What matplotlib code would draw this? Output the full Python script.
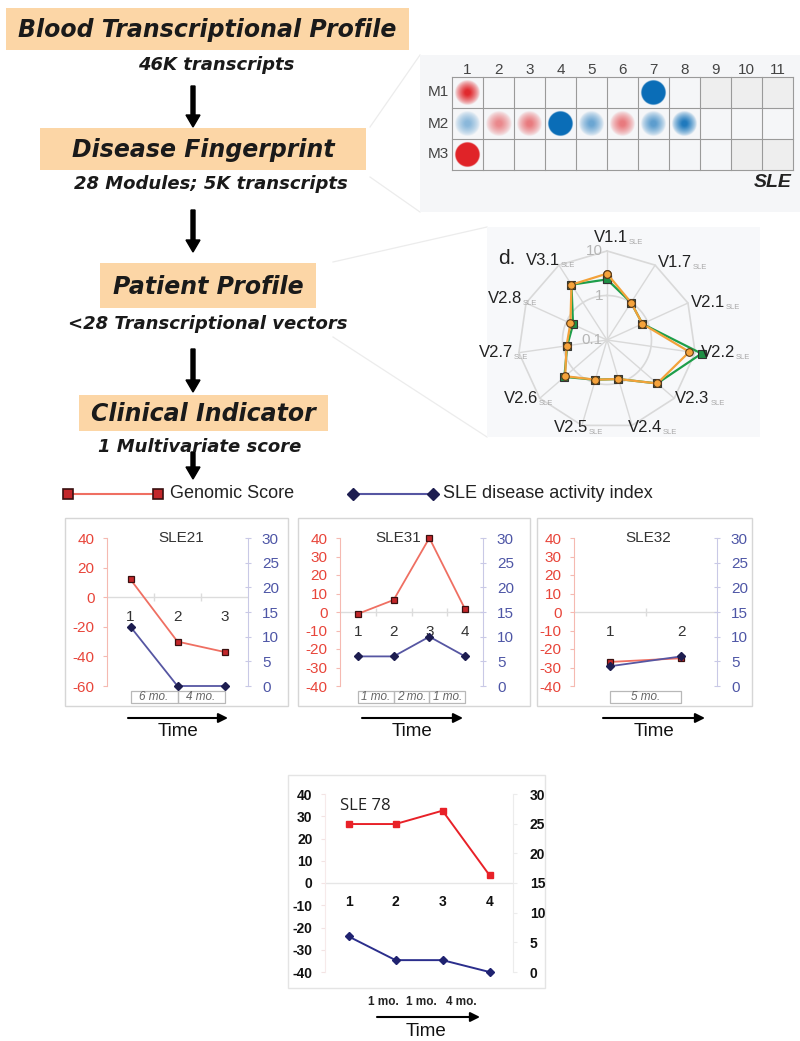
import numpy as np
import matplotlib
matplotlib.use("Agg")
import matplotlib.pyplot as plt
from matplotlib.patches import Rectangle
from matplotlib.transforms import blended_transform_factory
from matplotlib import font_manager

plt.rcParams["axes.unicode_minus"] = False

# ---------------- data ----------------
flow_titles = ["Blood Transcriptional Profile", "Disease Fingerprint",
               "Patient Profile", "Clinical Indicator"]
flow_subtitles = ["46K transcripts", "28 Modules; 5K transcripts",
                  "<28 Transcriptional vectors", "1 Multivariate score"]

module_rows = ["M1", "M2", "M3"]
module_cols = [str(i) for i in range(1, 12)]
# signed % of transcripts (+ red / - blue); None = module not present (grey)
module_M1 = [75, 0, 0, 0, 0, 0, -100, 0, None, None, None]
module_M2 = [-35, 40, 45, -100, -45, 45, -50, -70, 0, 0, 0]
module_M3 = [100, 0, 0, 0, 0, 0, 0, 0, 0, None, None]

radar_axes = ["V1.1", "V1.7", "V2.1", "V2.2", "V2.3", "V2.4",
              "V2.5", "V2.6", "V2.7", "V2.8", "V3.1"]
radar_orange = [3.1, 1.0, 0.75, 7.4, 3.1, 0.82, 0.85, 1.75, 0.83, 0.80, 3.0]
radar_green = [2.3, 1.0, 0.75, 14.0, 3.1, 0.82, 0.85, 1.85, 0.80, 0.69, 3.0]

sle21_genomic = [12, -30, -37]
sle21_sledai = [12, 0, 0]
sle21_intervals = ["6 mo.", "4 mo."]

sle31_genomic = [-1, 6.5, 40, 1.5]
sle31_sledai = [6, 6, 10, 6]
sle31_intervals = ["1 mo.", "2 mo.", "1 mo."]

sle32_genomic = [-27, -25]
sle32_sledai = [4, 6]
sle32_intervals = ["5 mo."]

sle78_genomic = [26.5, 26.5, 32.5, 3.5]
sle78_sledai = [6, 2, 2, 0]
sle78_intervals = ["1 mo.", "1 mo.", "4 mo."]

legend_labels = ["Genomic Score", "SLE disease activity index"]

# ---------------- figure ----------------
W, H = 800, 1041
fig = plt.figure(figsize=(8, 10.41), dpi=100)
bg = fig.add_axes([0, 0, 1, 1])
bg.set_xlim(0, W)
bg.set_ylim(H, 0)
bg.axis("off")


def fr(x0, y0, x1, y1):
    return [x0 / W, 1 - y1 / H, (x1 - x0) / W, (y1 - y0) / H]


names = {f.name for f in font_manager.fontManager.ttflist}
HEAVY = "DejaVu Sans"
SANS = "Liberation Sans" if "Liberation Sans" in names else "DejaVu Sans"

# ---- faint zoom connector lines & panel backgrounds
conn = "#ececec"
for (x0, y0, x1, y1) in [(370, 127, 420, 55), (370, 177, 420, 212),
                         (333, 262, 487, 227), (333, 337, 487, 437)]:
    bg.plot([x0, x1], [y0, y1], color=conn, lw=0.9, zorder=0)
bg.add_patch(Rectangle((420, 55), 380, 157, color="#f5f6f8", zorder=0, lw=0))
bg.add_patch(Rectangle((487, 227), 273, 210, color="#f7f8fa", zorder=0, lw=0))

# ---- flow chart
box_rects = [(6, 8, 409, 50), (40, 128, 366, 170), (100, 263, 316, 308), (79, 395, 328, 431)]
sub_pos = [(216, 65), (211, 184), (208, 324), (200, 447)]
arrows = [(86, 127), (210, 252), (349, 392), (452, 479)]
for (x0, y0, x1, y1), t in zip(box_rects, flow_titles):
    bg.add_patch(Rectangle((x0, y0), x1 - x0, y1 - y0, color="#fcd6a6", lw=0, zorder=1))
    bg.text((x0 + x1) / 2, (y0 + y1) / 2 + 1, t, ha="center", va="center",
            family=HEAVY, weight="heavy", style="oblique", fontsize=17, color="#1a1a1a", zorder=2)
for (x, y), t in zip(sub_pos, flow_subtitles):
    bg.text(x, y, t, ha="center", va="center", family=HEAVY, weight="heavy",
            style="oblique", fontsize=13, color="#1a1a1a")
for (y0, y1) in arrows:
    bg.arrow(193, y0, 0, y1 - y0, width=4, head_width=14, head_length=12,
             length_includes_head=True, color="black", zorder=2)

# ---- legend
RED_LINE, RED_MK, RED_EDGE = "#ef6f62", "#c3262a", "#3a1010"
BLU_LINE, BLU_MK = "#5656a2", "#1d1d50"
bg.plot([68, 158], [494, 494], color=RED_LINE, lw=1.5, marker="s", ms=7,
        mfc=RED_MK, mec=RED_EDGE, mew=1.2)
bg.text(170, 494, legend_labels[0], ha="left", va="center", family=SANS, fontsize=13, color="#222")
bg.plot([353, 433], [494, 494], color=BLU_LINE, lw=1.5, marker="D", ms=6.5,
        mfc=BLU_MK, mec=BLU_MK)
bg.text(443, 494, legend_labels[1], ha="left", va="center", family=SANS, fontsize=13, color="#222")

# ---------------- heatmap ----------------
hm = fig.add_axes(fr(452, 77, 793, 170))
hm.axis("off")
RED = np.array([0.88, 0.14, 0.16])
BLUE = np.array([0.04, 0.43, 0.72])
yy, xx = np.mgrid[-1:1:81j, -1:1:81j]
rr = np.sqrt(xx ** 2 + yy ** 2)
for ri, row in enumerate([module_M1, module_M2, module_M3]):
    for ci, v in enumerate(row):
        cx, cy = ci + 1, ri + 1
        if v is None:
            hm.add_patch(Rectangle((cx - 0.5, cy - 0.5), 1, 1, color="#eeeeee", lw=0, zorder=0))
            continue
        if v == 0:
            continue
        col = RED if v > 0 else BLUE
        a = abs(v) / 100
        R = 0.82
        if a >= 0.99:
            alpha = np.clip((R - rr) / 0.05, 0, 1)
        else:
            soft = 0.8
            alpha = np.clip((R - rr) / (R * soft), 0, 1) ** 0.7 * min(1, a * 1.3)
        img = np.zeros(rr.shape + (4,))
        img[..., :3] = col
        img[..., 3] = alpha
        hm.imshow(img, extent=(cx - 0.5, cx + 0.5, cy + 0.5, cy - 0.5),
                  interpolation="bilinear", zorder=2)
hm.set_xlim(0.5, 11.5)
hm.set_ylim(3.5, 0.5)
hm.set_aspect("auto")
for b in np.arange(0.5, 12, 1):
    hm.plot([b, b], [0.5, 3.5], color="#9a9a9a", lw=0.8, zorder=3, clip_on=False)
for b in np.arange(0.5, 4, 1):
    hm.plot([0.5, 11.5], [b, b], color="#9a9a9a", lw=0.8, zorder=3, clip_on=False)
for ci, c in enumerate(module_cols):
    hm.text(ci + 1, 0.26, c, ha="center", va="center", family=SANS, fontsize=11, color="#444")
for ri, r in enumerate(module_rows):
    hm.text(0.05, ri + 1, r, ha="center", va="center", family=SANS, fontsize=11, color="#444")
hm.text(11.45, 3.9, "SLE", ha="right", va="center", family=SANS, weight="bold",
        style="italic", fontsize=14, color="#222")

# ---------------- radar ----------------
cx, cy, R2 = 607, 340, 89
rmax = 2.25
rad_px = R2 * rmax / 2
ra = fig.add_axes(fr(cx - rad_px, cy - rad_px, cx + rad_px, cy + rad_px), projection="polar")
ra.set_theta_offset(np.pi / 2)
ra.set_theta_direction(-1)
ra.set_ylim(0, rmax)
ra.grid(False)
ra.set_xticks([])
ra.set_yticks([])
ra.spines["polar"].set_visible(False)
ra.patch.set_alpha(0)
n = len(radar_axes)
th = np.arange(n) * 2 * np.pi / n
thc = np.append(th, th[0])
gridc = "#d9d9d9"
ra.plot(thc, np.full(n + 1, 2.0), color=gridc, lw=1.2)
tt = np.linspace(0, 2 * np.pi, 200)
ra.plot(tt, np.full_like(tt, 1.0), color=gridc, lw=1.2)
for t in th:
    ra.plot([t, t], [0, 2.0], color=gridc, lw=1.0)
g = np.log10(radar_green) + 1
o = np.log10(radar_orange) + 1
ra.plot(thc, np.append(g, g[0]), color="#1e9e4a", lw=1.6, marker="s", ms=5.5,
        mfc="#1f8f45", mec="#333333", mew=0.8, zorder=3, clip_on=False)
ra.plot(thc, np.append(o, o[0]), color="#f3a23a", lw=1.6, marker="o", ms=5.5,
        mfc="#f5a33c", mec="#5a3a18", mew=0.8, zorder=4, clip_on=False)
for val, lab in [(2.0, "10"), (1.0, "1"), (0.0, "0.1")]:
    ra.annotate(lab, xy=(0, val), xytext=(-4, 0), textcoords="offset pixels",
                ha="right", va="center", family=SANS, fontsize=11, color="#b5b5b5")
offs = [(21, 13), (37, 3), (37, 1), (40, 0), (35, 0), (30, -2),
        (6, -2), (-2, 0), (-6, 0), (-4, 5), (1, 5)]
for t, lab, (dx, dy) in zip(th, radar_axes, offs):
    ra.annotate(lab, xy=(t, 2.0), xytext=(dx, dy), textcoords="offset pixels",
                ha="right", va="center", family=SANS, fontsize=12, color="#222")
    ra.annotate("SLE", xy=(t, 2.0), xytext=(dx + 1, dy - 5), textcoords="offset pixels",
                ha="left", va="center", family=SANS, fontsize=5.5, color="#a8a8a8")
bg.text(498, 258, "d.", ha="left", va="center", family=SANS, fontsize=15, color="#222")

# ---------------- line panels ----------------
LEFT_TICK = "#e8453a"
RIGHT_TICK = "#4e56a6"


def panel(px, frame, title, tx, genomic, sledai, ylo, ystep, intervals, arrow_x):
    x0, x1 = px
    fx0, fx1 = frame
    bg.add_patch(Rectangle((fx0, 518), fx1 - fx0, 188, fill=False, ec="#d6d6d6", lw=1.0, zorder=0))
    ax = fig.add_axes(fr(x0, 538, x1, 686))
    ax.patch.set_alpha(0)
    n = len(genomic)
    x = np.arange(1, n + 1)
    ax.set_xlim(0.5, n + 0.5)
    ax.set_ylim(ylo, 40)
    ax.set_yticks(np.arange(ylo, 41, ystep))
    ax.set_xticks([])
    for s in ["top", "bottom", "right"]:
        ax.spines[s].set_visible(False)
    ax.spines["left"].set_color("#f5b9b1")
    ax.tick_params(axis="y", colors="#f5b9b1", labelcolor=LEFT_TICK, length=3,
                   pad=6, labelsize=11)
    for lab in ax.get_yticklabels():
        lab.set_family(SANS)
    ax.axhline(0, color="#dcdcdc", lw=1.0, zorder=1)
    ax.plot(np.arange(1.5, n, 1), np.zeros(n - 1), ls="none", marker="|", ms=6,
            color="#dcdcdc", zorder=1)
    ax2 = ax.twinx()
    ax2.set_ylim(0, 30)
    ax2.set_yticks(np.arange(0, 31, 5))
    for s in ["top", "bottom", "left"]:
        ax2.spines[s].set_visible(False)
    ax2.spines["right"].set_color("#c9c9e6")
    ax2.tick_params(axis="y", colors="#c9c9e6", labelcolor=RIGHT_TICK, length=4,
                    direction="inout", pad=8, labelsize=11)
    for lab in ax2.get_yticklabels():
        lab.set_family(SANS)
    ax.plot(x, genomic, color=RED_LINE, lw=1.3, marker="s", ms=4.8, mfc=RED_MK,
            mec=RED_EDGE, mew=0.9, zorder=4, clip_on=False)
    ax2.plot(x, sledai, color=BLU_LINE, lw=1.3, marker="D", ms=4.2, mfc=BLU_MK,
             mec=BLU_MK, zorder=4, clip_on=False)
    for i in x:
        ax.annotate(str(i), xy=(i, 0), xytext=(0, -20), textcoords="offset pixels",
                    ha="center", va="center", family=SANS, fontsize=11, color="#333")
    ax.text(tx, 1.0, title, transform=ax.transAxes, ha="center", va="center",
            family=SANS, fontsize=11, color="#333")
    tr = blended_transform_factory(ax.transData, ax.transAxes)
    bh = 12 / 148
    for k, lab in enumerate(intervals):
        ax.add_patch(Rectangle((k + 1, -17 / 148), 1, bh, transform=tr, fill=False,
                               ec="#b8b8b8", lw=0.9, clip_on=False))
        ax.text(k + 1.5, -11 / 148, lab, transform=tr, ha="center", va="center",
                family=SANS, style="italic", fontsize=8.5, color="#666")
    a0, a1 = arrow_x
    bg.annotate("", xy=(a1, 718), xytext=(a0, 718),
                arrowprops=dict(arrowstyle="-|>", color="black", lw=1.5, mutation_scale=14,
                                shrinkA=0, shrinkB=0))
    bg.text((a0 + a1) / 2, 732, "Time", ha="center", va="center", family=SANS,
            fontsize=13.5, color="#111")


panel((107, 248), (65, 288), "SLE21", 0.53, sle21_genomic, sle21_sledai, -60, 20,
      sle21_intervals, (128, 228))
panel((340, 483), (298, 530), "SLE31", 0.405, sle31_genomic, sle31_sledai, -40, 10,
      sle31_intervals, (362, 463))
panel((574, 717), (537, 752), "SLE32", 0.52, sle32_genomic, sle32_sledai, -40, 10,
      sle32_intervals, (603, 705))

# ---------------- SLE 78 panel ----------------
bg.add_patch(Rectangle((288, 775), 257, 213, fill=False, ec="#e4e4e4", lw=1.0, zorder=0))
bx = fig.add_axes(fr(325, 794, 513, 972))
bx.patch.set_alpha(0)
n = len(sle78_genomic)
x = np.arange(1, n + 1)
bx.set_xlim(0.5, n + 0.5)
bx.set_ylim(-40, 40)
bx.set_yticks(np.arange(-40, 41, 10))
bx.set_xticks([])
for s in ["top", "bottom", "right"]:
    bx.spines[s].set_visible(False)
bx.spines["left"].set_color("#f6eaea")
bx.tick_params(axis="y", colors="#f3e3e3", labelcolor="#111", length=3, pad=6, labelsize=10)
for lab in bx.get_yticklabels():
    lab.set_family(SANS)
    lab.set_weight("bold")
bx.axhline(0, color="#e6e6e6", lw=1.0)
bx2 = bx.twinx()
bx2.set_ylim(0, 30)
bx2.set_yticks(np.arange(0, 31, 5))
for s in ["top", "bottom", "left"]:
    bx2.spines[s].set_visible(False)
bx2.spines["right"].set_color("#ececec")
bx2.tick_params(axis="y", colors="#ececec", labelcolor="#111", length=3, pad=9, labelsize=10)
for lab in bx2.get_yticklabels():
    lab.set_family(SANS)
    lab.set_weight("bold")
bx.plot(x, sle78_genomic, color="#e82128", lw=1.4, marker="s", ms=4.5, mfc="#e82128",
        mec="#e82128", zorder=4)
bx2.plot(x, sle78_sledai, color="#2b2e8c", lw=1.4, marker="D", ms=4, mfc="#1f2270",
         mec="#1f2270", zorder=4, clip_on=False)
for i in x:
    bx.annotate(str(i), xy=(i, 0), xytext=(0, -19), textcoords="offset pixels",
                ha="center", va="center", family=SANS, weight="bold", fontsize=10, color="#111")
bx.text(0.08, 0.93, "SLE 78", transform=bx.transAxes, ha="left", va="center",
        family="Open Sans", fontsize=12, color="#222")
for xp, lab in zip([383, 421, 461], sle78_intervals):
    bg.text(xp, 1002, lab, ha="center", va="center", family=SANS, weight="bold",
            fontsize=8.5, color="#222")
bg.annotate("", xy=(480, 1017), xytext=(377, 1017),
            arrowprops=dict(arrowstyle="-|>", color="black", lw=1.5, mutation_scale=14,
                            shrinkA=0, shrinkB=0))
bg.text(426, 1031, "Time", ha="center", va="center", family=SANS, fontsize=13.5, color="#111")

fig.savefig("out.png", dpi=100)
